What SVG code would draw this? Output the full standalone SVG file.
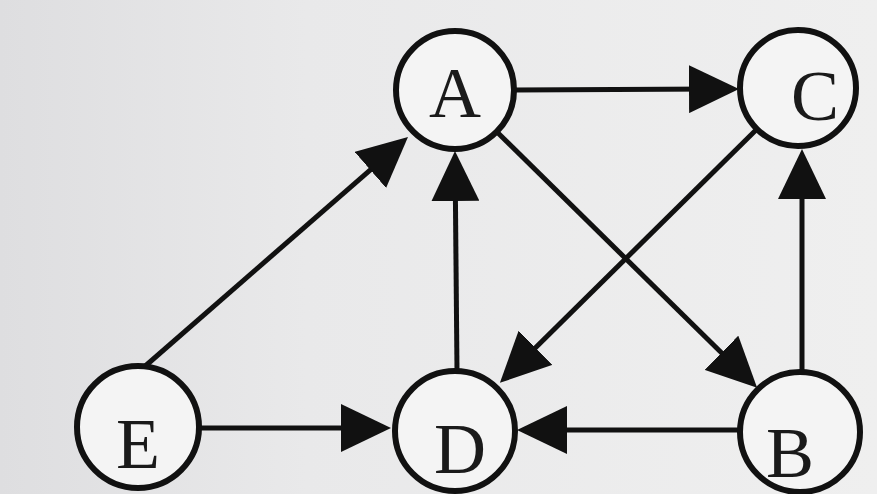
<svg xmlns="http://www.w3.org/2000/svg" width="877" height="494" viewBox="0 0 877 494">
  <defs>
    <linearGradient id="bg" x1="0" y1="0" x2="1" y2="0">
      <stop offset="0" stop-color="#dedee0"/>
      <stop offset="0.35" stop-color="#e9e9ea"/>
      <stop offset="1" stop-color="#efefef"/>
    </linearGradient>
    <marker id="arrow" markerUnits="userSpaceOnUse" markerWidth="50" markerHeight="48" viewBox="0 0 50 48" refX="26" refY="24" orient="auto">
      <path d="M0,0 L50,24 L0,48 Z" fill="#111"/>
    </marker>
    <style>
      .node circle { fill: #f4f4f4; stroke: #111; stroke-width: 6; }
      .node text { font-family: "Liberation Serif", "Times New Roman", serif; font-size: 72px; fill: #1a1a1a; text-anchor: middle; }
      .edges line { stroke: #111; stroke-width: 5; marker-end: url(#arrow); }
    </style>
  </defs>
  <rect width="877" height="494" fill="url(#bg)"/>
  <g id="edges" class="edges">
    <!-- A -> C (tip 739,89) -->
    <line x1="515" y1="90" x2="715" y2="89"/>
    <!-- E -> D (tip 391,428) -->
    <line x1="199" y1="428" x2="367" y2="428"/>
    <!-- B -> D (tip 517,430) -->
    <line x1="740" y1="430" x2="541" y2="430"/>
    <!-- D -> A (tip 455,151) -->
    <line x1="457" y1="371" x2="455.2" y2="175"/>
    <!-- B -> C (tip 802,149) -->
    <line x1="802" y1="372" x2="802" y2="173"/>
    <!-- E -> A (tip 408,137) -->
    <line x1="143" y1="368" x2="389.9" y2="152.8"/>
    <!-- A -> B (tip 757,388) -->
    <line x1="497" y1="132" x2="740" y2="371"/>
    <!-- C -> D (tip 500,383) -->
    <line x1="757" y1="129" x2="517" y2="366"/>
  </g>
  <g id="node-A" class="node">
    <circle cx="455" cy="90" r="59"/>
    <text x="455" y="117">A</text>
  </g>
  <g id="node-C" class="node">
    <circle cx="798" cy="88" r="58"/>
    <text x="815" y="120">C</text>
  </g>
  <g id="node-E" class="node">
    <circle cx="138" cy="427" r="61"/>
    <text x="138" y="468">E</text>
  </g>
  <g id="node-D" class="node">
    <circle cx="455" cy="431" r="60"/>
    <text x="460" y="473">D</text>
  </g>
  <g id="node-B" class="node">
    <circle cx="800" cy="432" r="60"/>
    <text x="790" y="477">B</text>
  </g>
</svg>
